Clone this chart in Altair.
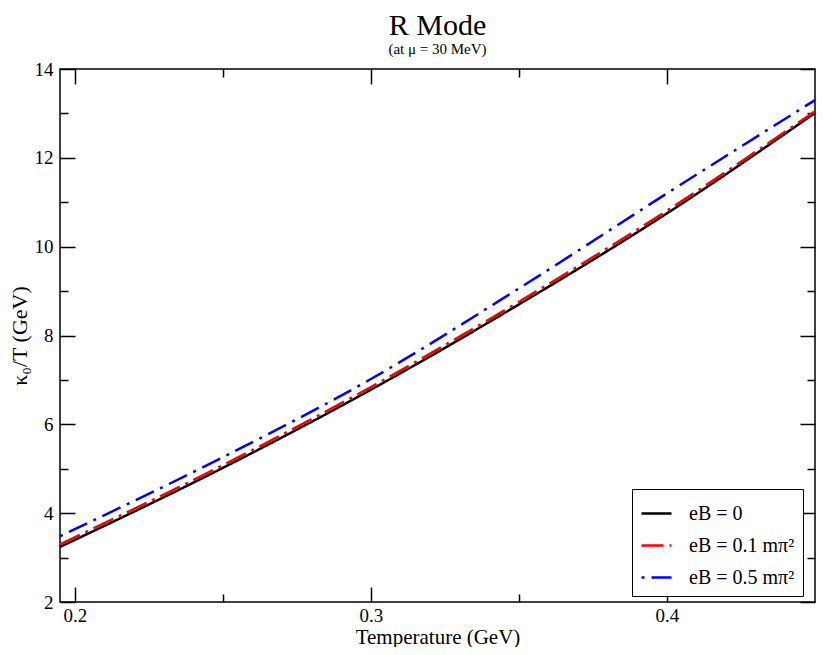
import altair as alt
import pandas as pd

# ---- data ----
temperature = [0.195, 0.25, 0.30, 0.35, 0.40, 0.45]
kappa_eb0 = [3.24, 5.02, 6.78, 8.70, 10.75, 13.01]
kappa_eb01 = [3.30, 5.08, 6.84, 8.76, 10.81, 13.05]
kappa_eb05 = [3.48, 5.26, 7.02, 9.06, 11.20, 13.30]
series_labels = ["eB = 0", "eB = 0.1 mπ²", "eB = 0.5 mπ²"]
series_colors = ["#000000", "#ff0000", "#0000ff"]
series_dashes = [[1, 0], [22, 6, 3, 6], [3, 7, 20, 7]]
x_major = [0.2, 0.3, 0.4]
x_minor = [0.25, 0.35]
y_major = [2, 4, 6, 8, 10, 12, 14]
y_minor = [3, 5, 7, 9, 11, 13]

rows = []
for lab, vals in zip(series_labels, [kappa_eb0, kappa_eb01, kappa_eb05]):
    for t, v in zip(temperature, vals):
        rows.append({"T": t, "kappa": v, "series": lab})
df = pd.DataFrame(rows)

FONT = "Liberation Serif"
xscale = alt.Scale(domain=[0.195, 0.45], nice=False, zero=False)
yscale = alt.Scale(domain=[2, 14], nice=False, zero=False)


def tick_axis(orient, values, size, **kw):
    base = dict(orient=orient, values=values, tickSize=size, offset=-size,
                domain=False, grid=False, tickColor="black", tickWidth=1.5,
                labels=False, title=None)
    base.update(kw)
    return alt.Axis(**base)


label_style = dict(labels=True, labelFont=FONT, labelFontSize=19, labelColor="black",
                   labelOverlap=False, labelFlush=False, titleFont=FONT,
                   titleFontWeight="normal", titleColor="black")

legend = alt.Legend(title=None, orient="none", legendX=572, legendY=420,
                    strokeColor="black", fillColor="white", padding=8,
                    symbolType="stroke", symbolSize=900, symbolStrokeWidth=2.5,
                    labelFont=FONT, labelFontSize=20, labelColor="black",
                    labelOffset=16, rowPadding=5, cornerRadius=0)

color_scale = alt.Scale(domain=series_labels, range=series_colors)
dash_scale = alt.Scale(domain=series_labels, range=series_dashes)

lines = alt.Chart(df).mark_line(strokeWidth=2.5, interpolate="monotone").encode(
    x=alt.X("T:Q", scale=xscale,
            axis=tick_axis("bottom", x_major, 15, format=".1f", labelPadding=4,
                           title="Temperature (GeV)", titlePadding=1,
                           titleFontSize=21, **label_style)),
    y=alt.Y("kappa:Q", scale=yscale,
            axis=tick_axis("left", y_major, 15, format="d", labelPadding=7,
                           title="κ₀/T (GeV)", titlePadding=3,
                           titleFontSize=22, **label_style)),
    color=alt.Color("series:N", scale=color_scale, legend=legend, sort=series_labels),
    strokeDash=alt.StrokeDash("series:N", scale=dash_scale, legend=legend, sort=series_labels),
    order=alt.Order("T:Q"),
)


def ghost(xaxis, yaxis):
    return alt.Chart(df).mark_line(opacity=0).encode(
        x=alt.X("T:Q", scale=xscale, axis=xaxis),
        y=alt.Y("kappa:Q", scale=yscale, axis=yaxis),
        detail="series:N",
    )


g1 = ghost(tick_axis("bottom", x_minor, 8), tick_axis("left", y_minor, 8))
g2 = ghost(tick_axis("top", x_major, 15), tick_axis("right", y_major, 15))
g3 = ghost(tick_axis("top", x_minor, 8), tick_axis("right", y_minor, 8))

chart = alt.layer(lines, g1, g2, g3).resolve_axis(
    x="independent", y="independent"
).properties(
    width=812,
    height=639,
    padding={"left": 0, "top": 3, "right": 0, "bottom": 0},
    autosize=alt.AutoSizeParams(type="fit", contains="padding"),
    title=alt.TitleParams(text="R Mode", subtitle="(at μ = 30 MeV)", font=FONT,
                          fontSize=30, fontWeight="normal", color="black",
                          subtitleFont=FONT, subtitleFontSize=15,
                          subtitleColor="black", subtitlePadding=1,
                          anchor="middle", offset=3),
).configure_view(stroke="black", strokeWidth=1.5)

chart.save("out.html", embed_options={"renderer": "svg", "actions": False})
